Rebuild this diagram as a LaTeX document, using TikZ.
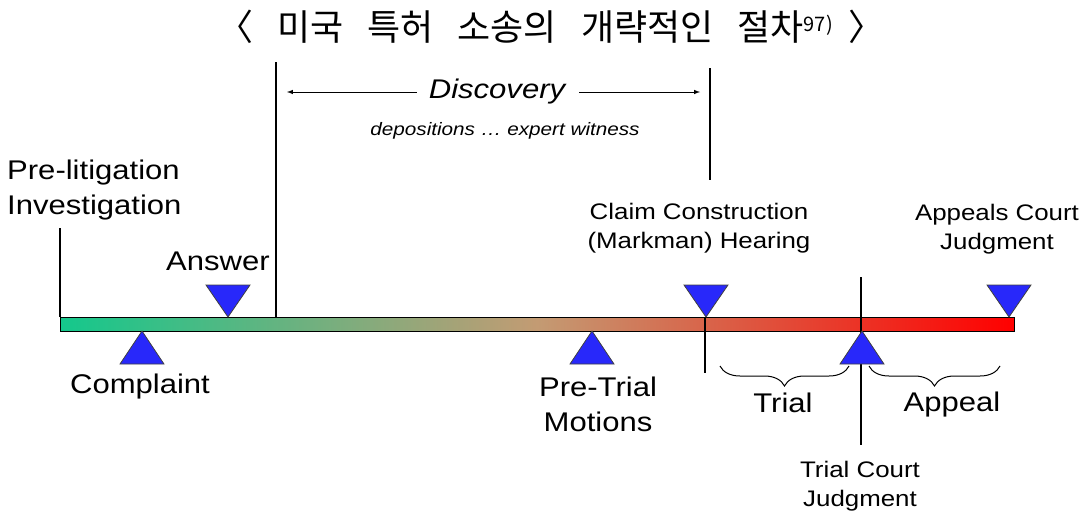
\documentclass[tikz,border=0pt]{standalone}
\usepackage{fontspec}
\setmainfont{Liberation Sans}[FakeStretch=1.15]
\newfontfamily\krfont{Noto Sans CJK KR}
\usetikzlibrary{decorations.pathreplacing}

\definecolor{barleft}{RGB}{20,200,140}
\definecolor{barmid}{RGB}{195,155,115}
\definecolor{barright}{RGB}{255,0,0}
\definecolor{triblue}{RGB}{40,40,250}

\newcommand{\wsp}{\hspace{24pt}}

\tikzset{
  lbl/.style={font=\fontsize{27}{35}\selectfont, align=center, inner sep=0pt},
  smlbl/.style={font=\fontsize{22.5}{29}\selectfont, align=center, inner sep=0pt},
  tri/.style={fill=triblue, draw=black!75, line width=0.8pt},
  tick/.style={line width=1.1pt},
  brc/.style={decorate, decoration={brace, mirror, amplitude=20pt}, line width=1pt},
}

\begin{document}
\begin{tikzpicture}[x=1pt, y=-1pt]
  \useasboundingbox (0,0) rectangle (1082,517);

  % title
  \node[inner sep=0pt, font=\krfont\fontsize{36}{38}\selectfont] (title) at (551,27)
    {〈\wsp 미국\wsp 특허\wsp 소송의\wsp 개략적인\wsp 절차\raisebox{9pt}{\fontsize{20}{21}\selectfont 97)}\hspace{16pt}〉};

  % time bar
  \shade[left color=barleft, right color=barright, middle color=barmid]
    (60,317) rectangle (1014,331);
  \draw[line width=1pt] (60,317) rectangle (1014,331);

  % marker lines
  \coordinate (pre) at (60,228);
  \coordinate (discL) at (276,62);
  \coordinate (discR) at (710,68);
  \coordinate (mark) at (705,317);
  \coordinate (tcj) at (861,277);
  \draw[tick] (pre) -- (60,317);
  \draw[tick] (discL) -- (276,317);
  \draw[tick] (discR) -- (710,180);
  \draw[tick] (mark) -- (705,373);
  \draw[tick] (tcj) -- (861,445);

  % triangles
  \foreach \x in {228,706,1009}
    \filldraw[tri] (\x-22,285) -- (\x+22,285) -- (\x,317) -- cycle;
  \foreach \x in {142,592,862}
    \filldraw[tri] (\x-22,364) -- (\x+22,364) -- (\x,331) -- cycle;

  % discovery
  \node[lbl, font=\fontsize{27}{32}\selectfont\itshape] (disc) at (497,92) {Discovery};
  \node[smlbl, font=\fontsize{18}{22}\selectfont\itshape] (depo) at (505,131)
    {depositions \dots\ expert witness};
  \draw[-latex, line width=1pt] (disc.west) ++(-12,0) coordinate (dl) -- (287,92);
  \draw[-latex, line width=1pt] (disc.east) ++(14,0) coordinate (dr) -- (700,92);

  % labels
  \node[lbl, align=left, anchor=west] (prelit) at (7,190) {Pre-litigation\\Investigation};
  \node[lbl] (answer) at (218,261) {Answer};
  \node[lbl] (complaint) at (140,387) {Complaint};
  \node[lbl] (pretrial) at (598,404) {Pre-Trial\\Motions};
  \node[smlbl] (claim) at (699,228) {Claim Construction\\(Markman) Hearing};
  \node[smlbl] (appeals) at (997,229) {Appeals Court\\Judgment};
  \node[smlbl] (judg) at (860,486) {Trial Court\\Judgment};

  % braces
  \draw[brc] (720,366) -- (849,366);
  \draw[brc] (869,366) -- (1000,366);
  \node[lbl] (trial) at (783,403) {Trial};
  \node[lbl] (appeal) at (952,405) {Appeal};
\end{tikzpicture}
\end{document}
